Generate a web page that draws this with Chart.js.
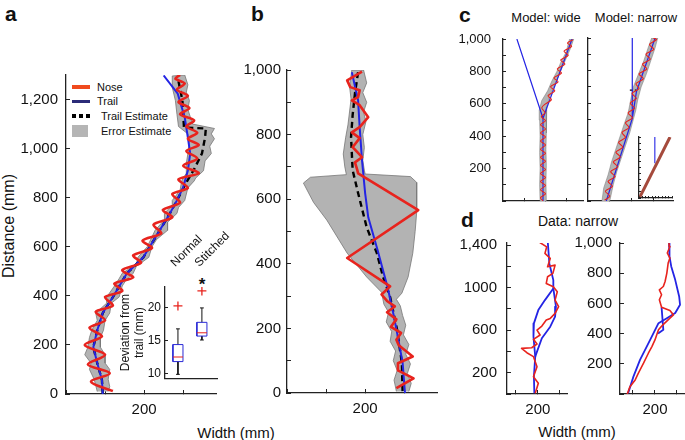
<!DOCTYPE html>
<html>
<head>
<meta charset="utf-8">
<script src="https://cdn.jsdelivr.net/npm/chart.js@4.4.1/dist/chart.umd.min.js"></script>
<style>
  body { margin: 0; width: 685px; height: 440px; position: relative; overflow: hidden; background: #fff;
         font-family: Arial, "Liberation Sans", Helvetica, sans-serif; color: #111; }
  canvas { position: absolute; }
  .t { position: absolute; white-space: nowrap; transform: translate(-50%, -50%); }
  .lab { position: absolute; font-weight: bold; font-size: 21px; }
  .lg { position: absolute; font-size: 11px; white-space: nowrap; transform: translateY(-50%); }
  .sw { position: absolute; }
</style>
</head>
<body>
<div class="lab" style="left:5px;top:2px">a</div>
<div class="lab" style="left:251px;top:2px">b</div>
<div class="lab" style="left:459px;top:3px">c</div>
<div class="lab" style="left:461px;top:208px">d</div>
<div class="t" style="left:9px;top:226px;font-size:16px;transform:translate(-50%,-50%) rotate(-90deg)">Distance (mm)</div>
<div class="t" style="left:236px;top:432px;font-size:15px">Width (mm)</div>
<div class="t" style="left:546px;top:17px;font-size:13px">Model: wide</div>
<div class="t" style="left:636px;top:17px;font-size:13px">Model: narrow</div>
<div class="t" style="left:578px;top:221px;font-size:14px">Data: narrow</div>
<div class="t" style="left:577px;top:431px;font-size:15px">Width (mm)</div>
<div class="t" style="left:202px;top:285px;font-size:17px;font-weight:bold">*</div>

<!-- legend of panel a -->
<div class="sw" style="left:72px;top:85px;width:18px;height:4px;background:#f04a1e"></div>
<div class="lg" style="left:97px;top:87px">Nose</div>
<div class="sw" style="left:72px;top:100px;width:18px;height:3px;background:#2b2b78"></div>
<div class="lg" style="left:97px;top:101px">Trail</div>
<div class="sw" style="left:72px;top:114px;width:18px;height:4px;background:repeating-linear-gradient(90deg,#000 0 4px,transparent 4px 7px)"></div>
<div class="lg" style="left:101px;top:116px">Trail Estimate</div>
<div class="sw" style="left:72px;top:125px;width:16px;height:12px;background:#b5b5b5"></div>
<div class="lg" style="left:101px;top:131px">Error Estimate</div>

<script>
// ---- panel a : [width, distance] in mm ----
const aNose = [[160,12],[132,50],[156,85],[128,120],[150,160],[124,200],[146,235],[130,270],[150,300],[138,335],[160,360],[150,395],[172,420],[162,450],[186,475],[172,505],[196,535],[186,565],[210,595],[198,625],[222,655],[212,690],[236,720],[224,750],[246,780],[236,815],[256,840],[244,875],[270,900],[250,930],[268,960],[254,990],[270,1015],[256,1040],[268,1065],[254,1090],[264,1115],[246,1140],[258,1165],[244,1190],[256,1215],[242,1240],[252,1265],[240,1285],[246,1300]];
const aTrail = [[147,0],[146,57],[140,126],[135,191],[140,260],[147,330],[160,395],[178,492],[199,557],[220,667],[233,736],[242,789],[250,842],[256,911],[259,980],[256,1045],[252,1127],[243,1224],[225,1298]];
const aEstimate = [[147,0],[146,57],[140,126],[135,191],[140,260],[147,330],[160,395],[178,492],[199,557],[220,667],[233,736],[242,789],[255,868],[263,910],[274,980],[278,1045],[279,1082],[251,1086],[249,1196],[243,1290]];
const aBandLeft = [[140,10],[136,60],[130,100],[132,126],[124,160],[128,191],[130,230],[133,260],[140,300],[138,330],[152,370],[152,395],[162,440],[168,470],[172,492],[190,530],[192,557],[204,600],[210,640],[214,667],[226,710],[226,736],[236,770],[236,789],[246,830],[248,868],[254,900],[254,940],[256,980],[258,1020],[256,1060],[244,1090],[242,1140],[240,1196],[236,1250],[236,1296]];
const aBandRight = [[252,1300],[256,1260],[254,1230],[258,1196],[256,1160],[260,1120],[262,1100],[290,1082],[286,1060],[290,1040],[284,1010],[286,980],[278,950],[276,910],[266,880],[264,868],[256,840],[252,789],[244,760],[242,736],[230,700],[230,667],[216,630],[210,600],[206,557],[190,520],[186,492],[176,460],[172,440],[168,395],[158,370],[156,330],[150,300],[148,260],[144,230],[144,191],[150,160],[150,126],[156,100],[154,60],[156,30],[154,10]];
const aXTicks = [100, 150, 200, 250];
const aXLabels = ['', '', '200', ''];
const aYTicks = [0, 200, 400, 600, 800, 1000, 1200];
const aYLabels = ['0', '200', '400', '600', '800', '1,000', '1,200'];

// inset of panel a (deviation from trail, mm)
const boxCats = ['Normal', 'Stitched'];
const boxQ1 = [11.8, 15.7];
const boxQ3 = [14.4, 17.8];
const boxMedian = [12.5, 16.2];
const whiskerLow = [9.85, 15.1];
const whiskerHigh = [16.8, 20.0];
const boxOutliers = [20.3, 22.6];
const boxYTicks = [10, 15, 20];
const boxYLabels = ['10', '15', '20'];

// ---- panel b ----
const bNose = [[196,995],[177,968],[181,947],[193,937],[191,916],[183,906],[193,891],[204,854],[193,823],[183,807],[193,789],[184,761],[196,730],[187,714],[190,690],[191,680],[268,566],[177,418],[232,330],[221,305],[228,285],[238,268],[228,250],[240,228],[233,205],[246,186],[240,165],[243,148],[261,113],[242,92],[242,70],[262,45],[240,15]];
const bTrail = [[183,993],[191,906],[193,823],[196,721],[200,619],[204,544],[216,442],[229,325],[236,247],[242,173],[248,93],[251,0]];
const bEstimate = [[191,993],[187,928],[184,860],[182,792],[184,690],[191,619],[202,513],[215,433],[223,359],[232,297],[241,195],[247,93],[248,0]];
const bBandLeft = [[240,5],[237,40],[241,70],[236,100],[239,130],[232,160],[234,190],[227,220],[230,250],[224,275],[221,312],[202,359],[177,433],[151,535],[134,590],[121,650],[130,668],[176,676],[174,700],[172,740],[175,790],[178,830],[180,870],[182,910],[180,950],[183,1000]];
const bBandRight = [[198,1000],[202,960],[197,930],[202,900],[198,870],[201,840],[197,800],[199,760],[197,720],[199,690],[200,678],[258,670],[266,652],[266,560],[264,500],[261,433],[255,359],[247,309],[240,290],[245,270],[248,240],[252,210],[249,180],[256,150],[252,120],[258,90],[254,60],[259,30],[256,5]];
const bXTicks = [100, 150, 200, 250];
const bXLabels = ['', '', '200', ''];
const bYTicks = [0, 100, 200, 300, 400, 500, 600, 700, 800, 900, 1000];
const bYLabels = ['0', '', '200', '', '400', '', '600', '', '800', '', '1,000'];

// ---- panel c (model runs) ----
const cWideNose = [[195,0],[189,20],[201,45],[189,70],[201,95],[189,120],[201,145],[189,170],[201,195],[189,220],[201,245],[189,270],[201,295],[189,320],[201,345],[189,370],[201,395],[189,420],[201,445],[189,470],[201,495],[191,520],[200,545],[192,575],[201,600],[215,625],[207,650],[223,680],[213,705],[231,735],[221,760],[239,790],[229,815],[247,845],[237,870],[255,900],[245,925],[263,955],[253,975],[266,995]];
const cWideTrail = [[133,1000],[195,511],[264,1000]];
const cWideTrailTail = [[195,511],[195,0]];
const cWideBandLeft = [[188,0],[187,100],[188,200],[187,300],[188,400],[187,500],[186,560],[192,620],[206,680],[216,740],[228,800],[238,860],[250,920],[258,1000]];
const cWideBandRight = [[268,1000],[260,940],[250,880],[240,820],[230,760],[220,700],[210,640],[204,580],[203,520],[203,420],[202,320],[203,220],[202,120],[203,0]];
const cNarrowNose = [[138,5],[150,30],[140,60],[156,90],[146,120],[162,150],[152,180],[168,210],[158,240],[174,270],[164,300],[180,330],[170,360],[186,390],[178,420],[194,450],[186,480],[202,510],[192,540],[207,570],[197,600],[211,630],[201,660],[217,690],[210,720],[227,750],[217,780],[235,810],[225,840],[243,870],[233,900],[251,930],[241,960],[257,990],[250,1000]];
const cNarrowTrail = [[142,0],[201.6,506],[211,670],[255,1008]];
const cNarrowTrailTop = [[201.6,506],[201.6,1010]];
const cNarrowEstimate = [[196,680],[211,680]];
const cNarrowBandLeft = [[132,0],[136,80],[146,160],[154,240],[164,320],[174,400],[184,480],[192,540],[198,620],[204,700],[216,780],[228,860],[238,940],[246,1000]];
const cNarrowBandRight = [[260,1000],[254,940],[244,860],[234,780],[222,700],[214,620],[210,560],[204,500],[196,420],[186,340],[176,260],[166,180],[158,100],[150,0]];
const cInsetTrail = [[0.48,0.57],[0.48,1]];
const cInsetNose = [[0.03,0.02],[0.94,1]];
const cInsetTicks = [0, 0.1, 0.2, 0.3, 0.4, 0.5, 0.6, 0.7, 0.8, 0.9, 1];
const cXTicks = [150, 200, 250];
const cXLabels = ['', '', ''];
const cYTicks = [0, 100, 200, 300, 400, 500, 600, 700, 800, 900, 1000];
const cWideYLabels = ['', '', '200', '', '400', '', '600', '', '800', '', '1,000'];

// ---- panel d (data, narrow) ----
const dLeftTrail = [[222,1454],[226,1228],[235,1071],[235,993],[216,883],[201,789],[191,664],[190,539],[194,351],[191,163],[192,7]];
const dLeftTrailLoop = [[235,993],[241,821],[239,727],[228,633],[209,524],[198,398],[194,351]];
const dLeftNose = [[198,1441],[220,1384],[216,1322],[228,1275],[222,1196],[239,1212],[234,1134],[222,1103],[219,1040],[235,1009],[244,961],[239,883],[247,821],[239,758],[228,711],[219,695],[209,639],[198,601],[205,555],[190,514],[198,470],[186,435],[163,429],[175,388],[190,351],[198,257],[190,163],[201,101],[194,7]];
const dRightTrail = [[232,1004],[233,911],[237,845],[246,756],[255,646],[257,591],[246,536],[227,502],[208,469],[189,358],[166,226],[151,115],[139,5]];
const dRightTrailLoop = [[215,575],[219,425],[207,400]];
const dRightNose = [[137,0],[143,48],[155,93],[162,137],[174,204],[185,270],[193,314],[200,358],[208,425],[218,458],[234,502],[242,524],[234,553],[215,575],[210,624],[215,657],[210,690],[219,712],[223,745],[227,801],[230,867],[234,900],[228,934],[234,977],[232,1000]];
const dXTicks = [150, 200, 250];
const dXLabels = ['', '200', ''];
const dLeftYTicks = [0, 200, 400, 600, 800, 1000, 1200, 1400];
const dLeftYLabels = ['', '200', '', '600', '', '1000', '', '1,400'];
const dRightYTicks = [0, 200, 400, 600, 800, 1000];
const dRightYLabels = ['', '200', '400', '600', '800', '1,000'];

// ---- drawing ----
Chart.defaults.font.family = "Arial, 'Liberation Sans', Helvetica, sans-serif";
Chart.defaults.color = '#111';

const RED = '#e8231d', BLUE = '#2424e4', GRAY = '#b3b3b3', EDGE = '#777';
const pts = arr => arr.map(([x, y]) => ({x, y}));

const line = (data, color, width, extra) => Object.assign({
  data: pts(data), showLine: true, borderColor: color, borderWidth: width,
  pointRadius: 0, fill: false, tension: 0, borderJoinStyle: 'round'
}, extra || {});

// closed polygon: left edge going up, right edge coming down
const band = (left, right, width) => ({
  data: pts(left.concat(right)), showLine: true, fill: 'shape',
  backgroundColor: GRAY, borderColor: EDGE, borderWidth: width, pointRadius: 0
});

// keep the plot area where it is asked to be: no extra room for overhanging labels
const noPad = s => { s.paddingTop = s.paddingBottom = s.paddingLeft = s.paddingRight = 0; };

function axis(horiz, min, max, ticks, labels, o) {
  return {
    type: 'linear', position: horiz ? 'bottom' : 'left', min, max,
    afterBuildTicks: s => { s.ticks = ticks.map(v => ({value: v})); },
    afterFit: s => { if (horiz) s.height = o.size; else s.width = o.size; noPad(s); },
    ticks: {
      autoSkip: false, minRotation: 0, maxRotation: 0, padding: o.pad || 0,
      color: '#111', font: {size: o.font || 13},
      callback: (v, i) => labels[i] || ''
    },
    grid: { drawOnChartArea: false, tickLength: -(o.tick || 4), color: '#222', lineWidth: 1 },
    border: { color: '#222', width: 1.3 }
  };
}

// box = plot area [left, top, right, bottom] in page pixels
function makeChart(box, fit, datasets, scales) {
  const cv = document.createElement('canvas');
  const w = box[2] - box[0] + fit.yw + fit.pr;
  const h = box[3] - box[1] + fit.pt + fit.xh;
  cv.width = w; cv.height = h;
  cv.style.left = (box[0] - fit.yw) + 'px';
  cv.style.top = (box[1] - fit.pt) + 'px';
  document.body.appendChild(cv);
  return new Chart(cv, {
    type: 'scatter',
    data: { datasets },
    options: {
      responsive: false, animation: false, events: [],
      layout: { padding: { left: 0, right: fit.pr, bottom: 0, top: fit.lt === undefined ? fit.pt : fit.lt } },
      plugins: { legend: { display: false }, tooltip: { enabled: false } },
      scales
    }
  });
}

// panel a
makeChart([66, 75, 216, 394], { yw: 66, xh: 28, pt: 12, pr: 8 }, [
  line(aNose, RED, 2.6, { tension: 0.3 }),
  line(aTrail, BLUE, 2),
  line(aEstimate, '#000', 2.4, { borderDash: [6, 4] }),
  band(aBandLeft, aBandRight, 0.8)
], {
  x: axis(true, 100, 292, aXTicks, aXLabels, { size: 28, pad: 11, font: 15 }),
  y: axis(false, 0, 1300, aYTicks, aYLabels, { size: 66, pad: 12, font: 15 })
});

// inset of panel a: box plot
const hw = 0.21, cap = 0.08;
const boxOutline = [], boxMid = [], whiskers = [];
boxCats.forEach((_, i) => {
  const x = i + 1;
  boxOutline.push([x - hw, boxQ1[i]], [x + hw, boxQ1[i]], [x + hw, boxQ3[i]], [x - hw, boxQ3[i]], [x - hw, boxQ1[i]], [x, null]);
  boxMid.push([x - hw, boxMedian[i]], [x + hw, boxMedian[i]], [x, null]);
  whiskers.push([x, boxQ3[i]], [x, whiskerHigh[i]], [x, null], [x - cap, whiskerHigh[i]], [x + cap, whiskerHigh[i]], [x, null],
                [x, boxQ1[i]], [x, whiskerLow[i]], [x, null], [x - cap, whiskerLow[i]], [x + cap, whiskerLow[i]], [x, null]);
});
const boxY = axis(false, 9.26, 23.2, boxYTicks, boxYLabels, { size: 47, pad: 7, font: 12, tick: 3 });
boxY.title = { display: true, text: ['Deviation from', 'trail (mm)'], font: { size: 12 }, padding: 0, color: '#111' };
makeChart([165, 287, 217, 382], { yw: 47, xh: 2, pt: 66, pr: 34, lt: 4 }, [
  { data: pts(boxOutliers.map((v, i) => [i + 1, v])), showLine: false, pointStyle: 'cross', pointRadius: 4.5,
    borderColor: RED, borderWidth: 1.3 },
  line(boxMid, RED, 1),
  line(boxOutline, '#2a2ad6', 1),
  line(whiskers, '#111', 1)
], {
  x: { type: 'linear', min: 0.46, max: 2.63, ticks: { display: false }, grid: { display: false, drawTicks: false },
       border: { color: '#222', width: 1.2 }, afterFit: s => { s.height = 2; noPad(s); } },
  // label axis slightly shifted so the slanted names start where the original ones do
  x2: { type: 'linear', position: 'top', min: 0.24, max: 2.41,
        afterBuildTicks: s => { s.ticks = [1, 2].map(v => ({ value: v })); },
        afterFit: s => { s.height = 62; noPad(s); },
        ticks: { autoSkip: false, minRotation: 45, maxRotation: 45, padding: 17, font: { size: 12 }, color: '#111',
                 callback: (v, i) => boxCats[i] },
        grid: { display: false, drawTicks: false }, border: { display: false } },
  y: boxY
});

// panel b
makeChart([287, 70, 437, 393], { yw: 58, xh: 28, pt: 12, pr: 8 }, [
  line(bNose, RED, 2.6),
  line(bTrail, BLUE, 2),
  line(bEstimate, '#000', 2.4, { borderDash: [6, 4] }),
  band(bBandLeft, bBandRight, 0.8)
], {
  x: axis(true, 100, 292, bXTicks, bXLabels, { size: 28, pad: 11, font: 15 }),
  y: axis(false, 0, 1000, bYTicks, bYLabels, { size: 58, pad: 10, font: 15 })
});

// panel c, model: wide
makeChart([503, 39, 583, 201], { yw: 52, xh: 10, pt: 12, pr: 2 }, [
  line(cWideNose, RED, 1.1, { tension: 0.3 }),
  line(cWideTrail, BLUE, 1.2),
  line(cWideTrailTail, BLUE, 1.2),
  band(cWideBandLeft, cWideBandRight, 0.5)
], {
  x: axis(true, 100, 290, cXTicks, cXLabels, { size: 10, tick: 3 }),
  y: axis(false, 0, 1000, cYTicks, cWideYLabels, { size: 52, pad: 15, font: 13, tick: 3 })
});

// panel c, model: narrow
makeChart([588, 38, 673, 201], { yw: 4, xh: 10, pt: 12, pr: 4 }, [
  line(cNarrowNose, RED, 1.1, { tension: 0.3 }),
  line(cNarrowTrail, BLUE, 1.2),
  line(cNarrowTrailTop, BLUE, 1.2),
  line(cNarrowEstimate, '#000', 1.2, { borderDash: [3, 2] }),
  band(cNarrowBandLeft, cNarrowBandRight, 0.5)
], {
  x: axis(true, 100, 295, cXTicks, cXLabels, { size: 10, tick: 3 }),
  y: axis(false, 0, 1000, cYTicks, [], { size: 4, tick: 3 })
});

// small inset inside c narrow
makeChart([639, 137, 672, 198], { yw: 2, xh: 2, pt: 2, pr: 2 }, [
  line(cInsetNose, '#a54a3c', 3),
  line(cInsetTrail, BLUE, 1.1)
], {
  x: axis(true, 0, 1, cInsetTicks, [], { size: 2, tick: 2 }),
  y: axis(false, 0, 1, cInsetTicks, [], { size: 2, tick: 2 })
});

// panel d, left
makeChart([507, 243, 567, 394], { yw: 54, xh: 28, pt: 12, pr: 4 }, [
  line(dLeftNose, RED, 1.6),
  line(dLeftTrail, BLUE, 1.8),
  line(dLeftTrailLoop, BLUE, 1.8)
], {
  x: axis(true, 130, 266, dXTicks, dXLabels, { size: 28, pad: 11, font: 15 }),
  y: axis(false, 0, 1420, dLeftYTicks, dLeftYLabels, { size: 54, pad: 14, font: 15 })
});

// panel d, right
makeChart([620, 243, 684, 394], { yw: 54, xh: 28, pt: 12, pr: 1 }, [
  line(dRightNose, RED, 1.6),
  line(dRightTrail, BLUE, 1.8),
  line(dRightTrailLoop, BLUE, 1.8)
], {
  x: axis(true, 120.5, 266, dXTicks, dXLabels, { size: 28, pad: 11, font: 15 }),
  y: axis(false, 0, 1000, dRightYTicks, dRightYLabels, { size: 54, pad: 12, font: 15 })
});
</script>
</body>
</html>
